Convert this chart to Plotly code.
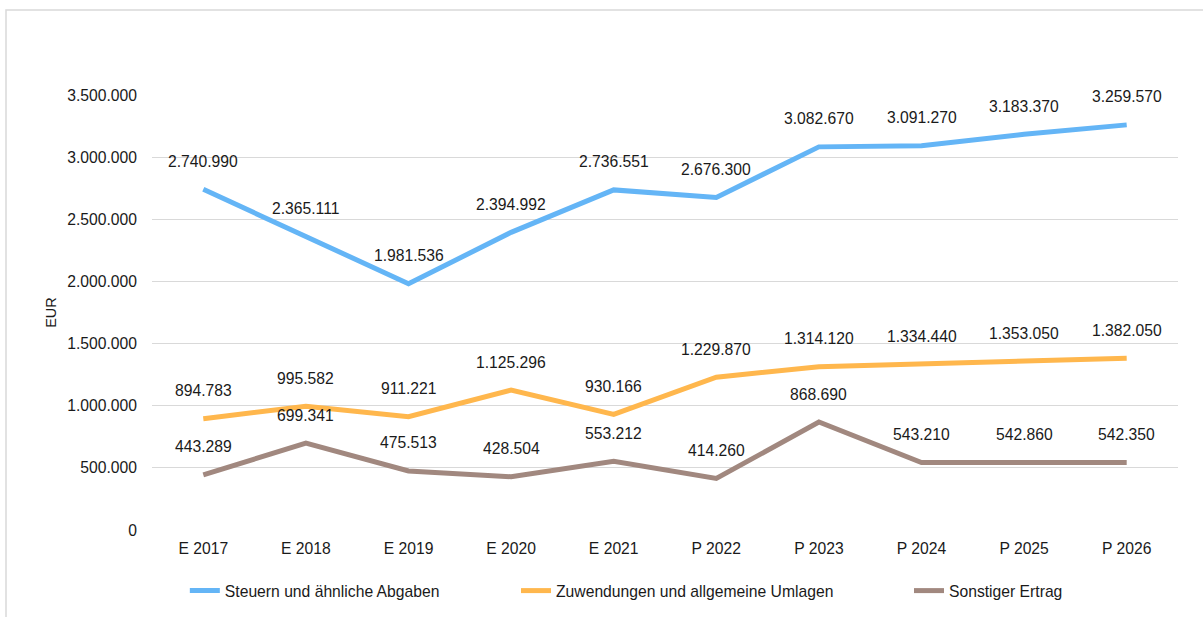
import plotly.graph_objects as go

categories = ["E 2017", "E 2018", "E 2019", "E 2020", "E 2021", "P 2022", "P 2023", "P 2024", "P 2025", "P 2026"]
steuern = [2740990, 2365111, 1981536, 2394992, 2736551, 2676300, 3082670, 3091270, 3183370, 3259570]
zuwendungen = [894783, 995582, 911221, 1125296, 930166, 1229870, 1314120, 1334440, 1353050, 1382050]
sonstiger = [443289, 699341, 475513, 428504, 553212, 414260, 868690, 543210, 542860, 542350]
y_ticks = [0, 500000, 1000000, 1500000, 2000000, 2500000, 3000000, 3500000]

series = [
    ("Steuern und ähnliche Abgaben", steuern, "#64B5F6", "legend", 0.032),
    ("Zuwendungen und allgemeine Umlagen", zuwendungen, "#FFB74D", "legend2", 0.3548),
    ("Sonstiger Ertrag", sonstiger, "#A1887F", "legend3", 0.7378),
]

def de(v):
    return f"{v:,}".replace(",", ".")

FONT = "Liberation Sans, Arial, sans-serif"
FS = 15.7
fig = go.Figure()
annotations = []
legends = {}
for name, vals, col, leg, lx in series:
    fig.add_trace(go.Scatter(x=categories, y=vals, name=name, mode="lines", legend=leg,
                             line=dict(color=col, width=5), hoverinfo="skip"))
    legends[leg] = dict(orientation="h", x=lx, xanchor="left", y=-0.14, yanchor="middle",
                        font=dict(size=FS, color="#1a1a1a", family=FONT), itemwidth=30,
                        bgcolor="rgba(0,0,0,0)")
    for c, v in zip(categories, vals):
        annotations.append(dict(x=c, y=v, xref="x", yref="y", text=de(v), showarrow=False,
                                yshift=28, font=dict(size=FS, color="#1a1a1a", family=FONT)))

fig.update_layout(
    width=1203, height=617,
    margin=dict(l=152, r=25, t=95, b=87, autoexpand=False),
    paper_bgcolor="white", plot_bgcolor="white",
    separators=",.",
    font=dict(family=FONT, size=FS, color="#1a1a1a"),
    annotations=annotations,
    showlegend=True,
    shapes=[dict(type="rect", xref="paper", yref="paper", x0=-0.1423, x1=1.05, y0=-0.3, y1=1.1954,
                 line=dict(color="#d9d9d9", width=1.5), fillcolor="rgba(0,0,0,0)", layer="below")],
    **legends,
)
fig.update_xaxes(range=[-0.5, 9.5], showgrid=False, showline=False, ticks="", tickfont=dict(size=FS),
                 ticklabelstandoff=7, automargin=False)
fig.update_yaxes(range=[0, 3500000], tickvals=y_ticks, tickformat=",.0f", showgrid=True,
                 gridcolor="#d9d9d9", gridwidth=1, zeroline=False, showline=False,
                 tickfont=dict(size=FS), ticklabelstandoff=14, automargin=True,
                 title=dict(text="EUR", font=dict(size=14.5), standoff=7))
fig.write_html("out.html", config={"displayModeBar": False},
               post_script="document.body.style.margin='0';document.body.style.overflow='hidden';")
